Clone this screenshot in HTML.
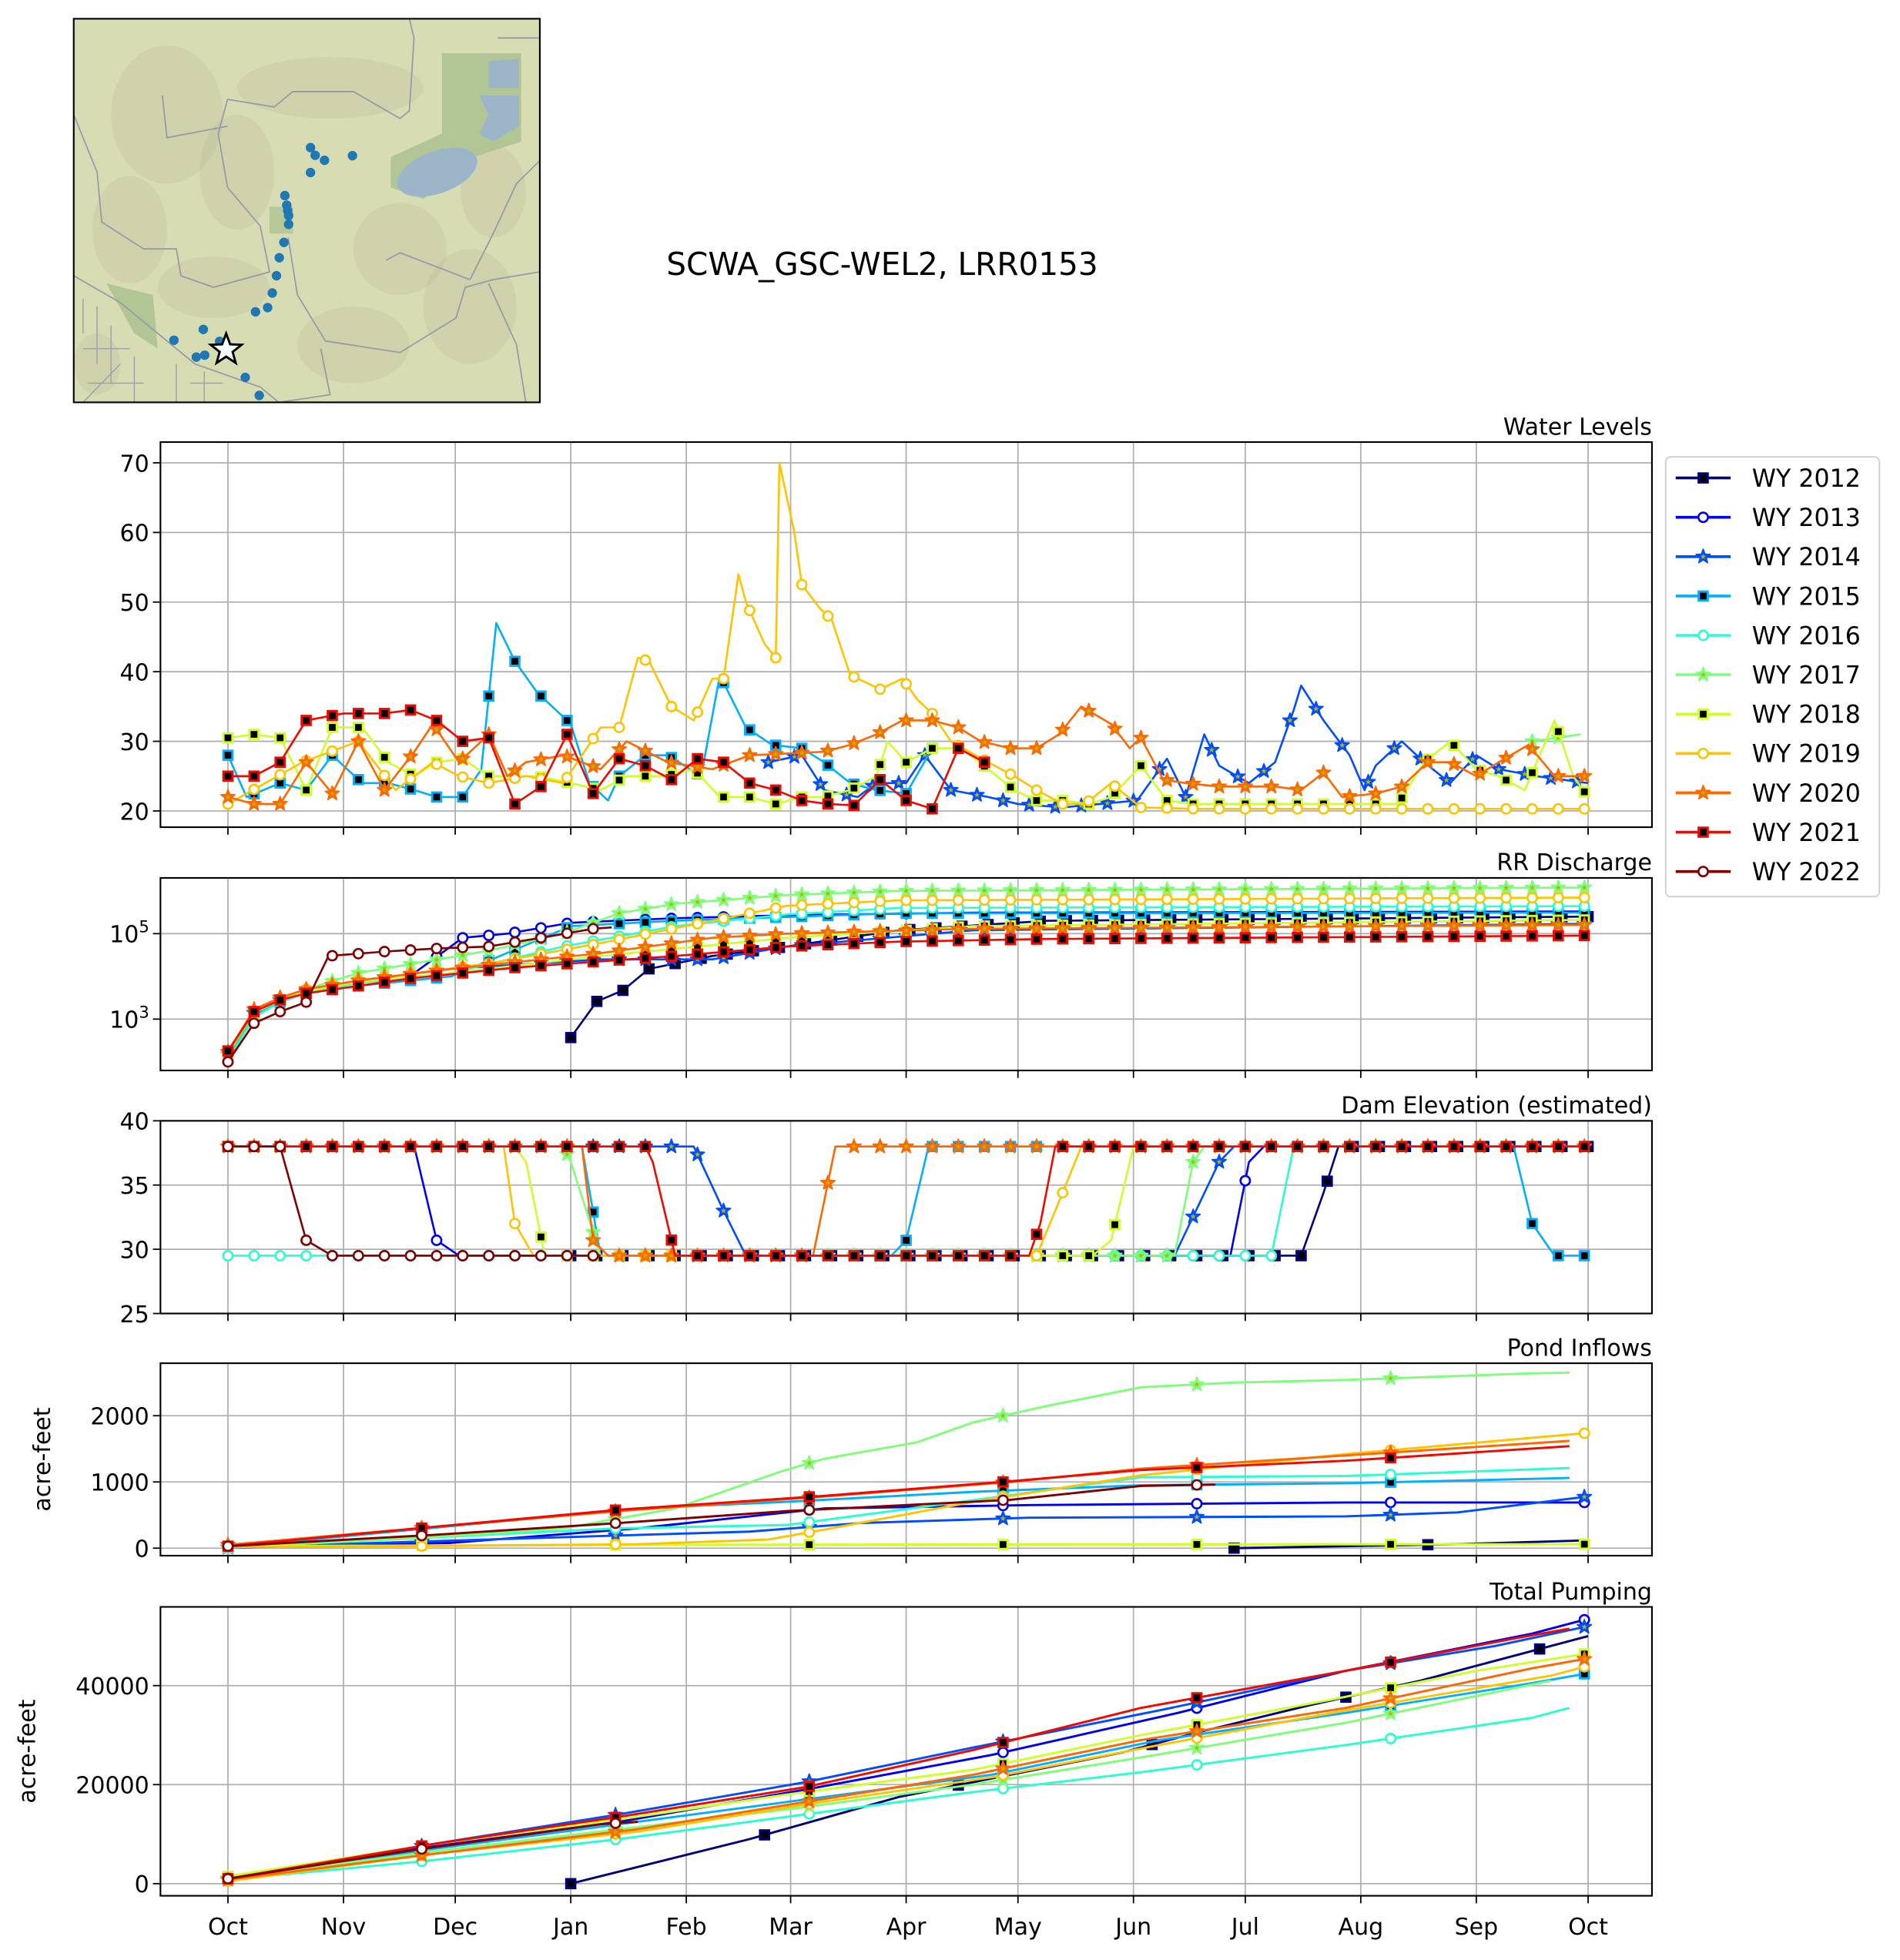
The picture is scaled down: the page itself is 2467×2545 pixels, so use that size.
<!DOCTYPE html>
<html><head><meta charset="utf-8"><style>
html,body{margin:0;padding:0;background:#fff}
svg{display:block;font-family:"DejaVu Sans","Liberation Sans",sans-serif}
</style></head><body>
<svg id="fig" width="2467" height="2545" viewBox="0 0 1520.5 1568.6" xmlns="http://www.w3.org/2000/svg">
<rect width="1520.5" height="1568.6" fill="#fff"/>
<g id="map"></g>
<text x="706" y="220" font-size="25" text-anchor="middle">SCWA_GSC-WEL2, LRR0153</text>
<g id="plots"></g>
<g id="legend"></g>
</svg>
<script>
// ---------- data ----------
const years = [2012,2013,2014,2015,2016,2017,2018,2019,2020,2021,2022];
const colors = ['#00007f','#0000f1','#004cff','#00b0ff','#29ffce','#7dff7a','#ceff29','#ffc400','#ff6800','#f10800','#7f0000'];
const markerTypes = ['s','o','*','s','o','*','s','o','*','s','o'];
const monthLabels = ['Oct','Nov','Dec','Jan','Feb','Mar','Apr','May','Jun','Jul','Aug','Sep','Oct'];
const monthDays = [0,31,61,92,123,151,182,212,243,273,304,335,365];

// Water levels [day, ft]
const wl2014 = [[145,27],[154,28],[160,23],[169,22],[174,24],[182,24],[187,28],[194,23],[204,22],[212,21],[224,20.5],[234,21],[244,21.5],[252,27.5],[257,22],[262,31],[266,26.5],[274,24],[281,27],[286,34.5],[288,38],[294,33],[301,28],[305,23],[308,26.5],[315,30],[321,27],[328,24],[335,28],[341,26],[351,25],[365,24]];
const wl2015 = [[0,28],[5,22],[14,24],[21,23],[28,28],[36,24],[43,24],[50,23],[56,22],[63,22],[68,26],[72,47],[77,41.5],[83,37],[92,32.5],[97,24],[102,21.5],[105,25],[112,28],[118,28],[127,25],[132,39.5],[139,32],[146,29.5],[154,29],[160,27],[167,24],[174,23],[182,22.5],[189,29]];
const wl2017 = [[350,30],[363,31]];
const wl2018 = [[0,30.5],[7,31],[14,30.5],[21,23],[28,32],[36,32],[43,27],[50,25],[56,27],[63,27.5],[70,25],[76,25],[83,25],[92,24],[100,23],[107,25],[117,25],[125,26],[132,22],[140,22],[147,21],[154,22],[160,22],[167,23],[174,25],[177,30],[182,27],[189,29],[197,29],[204,26],[211,23],[217,21.5],[224,21.5],[231,21],[237,22],[245,26.5],[252,21.5],[259,21],[266,21],[274,21],[281,21],[288,21],[294,21],[301,21],[308,21],[314,21],[321,27],[328,30],[335,26],[341,25],[348,23],[356,33],[361,25],[365,22]];
const wl2019 = [[0,21],[10,24],[20,27],[35,30],[45,23],[55,27],[62,25],[70,24],[80,25],[90,24],[100,32],[105,32],[110,42],[113,41.5],[119,35],[125,33],[130,39],[133,39],[137,54],[139,50],[144,44],[147,42],[148,70],[152,60],[154,52.5],[159,49],[162,47.5],[167,39.5],[175,37.5],[181,39],[185,36],[189,34],[194,30],[204,27],[211,25],[217,23],[224,21],[230,21],[237,24],[245,20.5],[260,20.3],[300,20.3],[365,20.3]];
const wl2020 = [[0,22],[7,21],[14,21],[21,27],[28,22.5],[35,30],[42,23],[50,28.5],[55,32.5],[62,27],[70,31],[75,25],[80,27],[90,28],[100,26],[107,30],[118,27],[130,26],[140,28],[160,28.5],[167,29.5],[174,31],[181,33],[189,33],[196,32],[202,30],[210,29],[217,29],[223,31],[229,35],[237,32.5],[242,29],[245,30.5],[251,24.5],[257,24],[266,23.5],[274,23.5],[281,23.5],[288,23],[294,25.5],[299,22],[308,22.5],[315,23.5],[322,27],[328,27],[335,25],[341,27],[349,29.5],[356,25],[365,25]];
const wl2021 = [[0,25],[7,25],[14,27],[21,33],[31,34],[42,34],[49,34.5],[56,33],[63,30],[70,30.5],[77,21],[84,23.5],[91,31],[98,22.5],[105,27.5],[112,26.5],[119,24.5],[126,27.5],[133,27],[140,24],[147,23],[154,21.5],[161,21],[168,20.8],[175,24.5],[182,21.5],[189,20.3],[196,29],[203,27]];
const wlSeries = [null,null,wl2014,wl2015,null,wl2017,wl2018,wl2019,wl2020,wl2021,null];

// RR discharge cumulative [day, value]
const rr2012 = [[92,370],[99,2600],[106,4700],[113,15000],[130,30000],[150,50000],[180,120000],[220,200000],[365,250000]];
const rr2013 = [[0,150],[7,1400],[14,2800],[21,4500],[35,7500],[50,12000],[63,80000],[75,100000],[92,180000],[120,230000],[150,270000],[200,310000],[365,330000]];
const rr2014 = [[0,150],[7,1400],[14,2800],[21,4500],[35,8000],[60,15000],[100,25000],[130,25000],[150,50000],[200,120000],[365,170000]];
const rr2015 = [[0,120],[7,1200],[14,2500],[21,4000],[35,6000],[60,10000],[92,150000],[120,200000],[180,300000],[365,310000]];
const rr2016 = [[0,110],[7,1100],[14,2500],[21,4000],[35,7000],[60,12000],[90,50000],[120,150000],[150,280000],[180,400000],[365,440000]];
const rr2017 = [[0,150],[7,1500],[14,3000],[21,5000],[35,12000],[50,20000],[70,40000],[90,100000],[105,300000],[120,500000],[150,800000],[180,1000000],[365,1200000]];
const rr2018 = [[0,150],[7,1400],[14,2800],[21,4500],[35,7500],[60,12000],[100,30000],[150,80000],[200,150000],[365,210000]];
const rr2019 = [[0,150],[7,1500],[14,3000],[21,5000],[35,8000],[70,20000],[100,60000],[130,200000],[150,450000],[180,600000],[365,700000]];
const rr2020 = [[0,170],[7,1700],[14,3200],[21,5000],[35,8000],[60,15000],[100,35000],[130,80000],[150,100000],[200,130000],[365,160000]];
const rr2021 = [[0,180],[7,1500],[14,2800],[21,4000],[35,6000],[49,9000],[63,12000],[77,16000],[92,20000],[120,30000],[150,50000],[180,65000],[220,75000],[365,90000]];
const rr2022 = [[0,100],[7,800],[14,1500],[21,2500],[27,30000],[42,38000],[56,45000],[70,50000],[84,80000],[98,130000],[103,140000]];
const rrSeries = [rr2012,rr2013,rr2014,rr2015,rr2016,rr2017,rr2018,rr2019,rr2020,rr2021,rr2022];

// Dam elevation [day, ft]
const dam2012 = [[92,29.5],[288,29.5],[294,34.4],[298,38],[365,38]];
const dam2013 = [[0,38],[50,38],[56,30.7],[62,29.5],[269,29.5],[274,36.8],[278,38],[365,38]];
const dam2014 = [[0,38],[125,38],[133,33],[139,29.5],[254,29.5],[266,36.8],[270,38],[365,38]];
const dam2015 = [[0,38],[95,38],[100,29.5],[178,29.5],[182,30.7],[188,38],[345,38],[350,32],[356,29.5],[365,29.5]];
const dam2016 = [[0,29.5],[280,29.5],[286,38],[365,38]];
const dam2017 = [[0,38],[90,38],[92,36.8],[100,29.5],[254,29.5],[259,36.8],[262,38],[365,38]];
const dam2018 = [[0,38],[77,38],[80,36.8],[85,29.5],[232,29.5],[237,30.7],[243,38],[365,38]];
const dam2019 = [[0,38],[74,38],[77,32],[82,29.5],[217,29.5],[224,34.4],[229,38],[365,38]];
const dam2020 = [[0,38],[95,38],[98,30.7],[102,29.5],[157,29.5],[163,38],[365,38]];
const dam2021 = [[0,38],[112,38],[114,36.8],[120,29.5],[215,29.5],[218,32],[222,38],[365,38]];
const dam2022 = [[0,38],[14,38],[21,30.7],[28,29.5],[100,29.5]];
const damSeries = [dam2012,dam2013,dam2014,dam2015,dam2016,dam2017,dam2018,dam2019,dam2020,dam2021,dam2022];

// Pond inflows [day, acre-feet]
const pond2012 = [[270,0],[330,60],[360,110],[365,120]];
const pond2013 = [[0,10],[60,80],[110,300],[160,600],[215,650],[300,690],[365,690]];
const pond2014 = [[0,10],[110,200],[140,250],[170,380],[215,460],[300,480],[330,540],[365,780]];
const pond2015 = [[0,10],[50,280],[110,600],[150,700],[200,850],[245,950],[300,980],[360,1060]];
const pond2016 = [[0,10],[105,300],[150,350],[210,800],[245,1070],[300,1090],[360,1210]];
const pond2017 = [[0,20],[50,150],[90,300],[120,600],[148,1150],[160,1350],[185,1600],[200,1900],[220,2150],[245,2430],[270,2500],[300,2540],[350,2640],[360,2650]];
const pond2018 = [[0,30],[100,50],[200,55],[365,60]];
const pond2019 = [[0,20],[50,30],[110,60],[145,130],[160,280],[200,700],[245,1100],[300,1420],[365,1740]];
const pond2020 = [[0,50],[55,320],[105,560],[160,780],[210,1000],[245,1200],[300,1400],[360,1620]];
const pond2021 = [[0,30],[55,320],[105,580],[160,790],[210,1010],[245,1180],[300,1320],[360,1540]];
const pond2022 = [[0,30],[55,200],[105,380],[150,560],[210,730],[245,940],[265,960]];
const pondSeries = [pond2012,pond2013,pond2014,pond2015,pond2016,pond2017,pond2018,pond2019,pond2020,pond2021,pond2022];

// Total pumping [day, acre-feet]
const pump2012 = [[92,0],[140,9000],[180,17500],[200,20500],[240,26500],[260,30500],[290,36000],[320,41000],[340,45000],[365,50000]];
const pump2013 = [[0,1000],[55,7500],[105,12500],[155,19000],[205,26000],[255,34500],[300,43000],[350,50500],[365,53500]];
const pump2014 = [[0,1000],[55,8000],[105,14000],[155,20500],[200,27500],[250,35000],[300,43000],[340,48000],[365,52000]];
const pump2015 = [[0,1000],[55,7000],[105,12000],[155,17000],[205,22000],[250,29000],[300,34500],[350,40500],[365,42500]];
const pump2016 = [[0,800],[52,4500],[105,9000],[155,14000],[200,18500],[245,22500],[300,28000],[350,33500],[360,35500]];
const pump2017 = [[0,1000],[55,6500],[105,11000],[150,15000],[200,20000],[245,25500],[300,32500],[355,41000]];
const pump2018 = [[0,1500],[30,5000],[55,8000],[105,13000],[150,18000],[200,23000],[245,30000],[295,37000],[335,43000],[365,46500]];
const pump2019 = [[0,500],[55,6000],[110,10500],[155,16000],[205,21500],[250,28000],[300,35000],[355,42000],[365,44000]];
const pump2020 = [[0,800],[55,6000],[110,11000],[155,16500],[200,22000],[245,29000],[300,35500],[350,43500],[365,45500]];
const pump2021 = [[0,1000],[55,8000],[105,13500],[155,19500],[200,27000],[245,35500],[300,43000],[345,49500],[360,51500]];
const pump2022 = [[0,1000],[52,7000],[100,12000],[110,12500]];
const pumpSeries = [pump2012,pump2013,pump2014,pump2015,pump2016,pump2017,pump2018,pump2019,pump2020,pump2021,pump2022];

// ---------- rendering ----------
const NS='http://www.w3.org/2000/svg';
function mk(tag, attrs, parent){const e=document.createElementNS(NS,tag);for(const k in attrs)e.setAttribute(k,attrs[k]);if(parent)parent.appendChild(e);return e;}
const X0=128.4, X1=1322, D0=182.4, D1=1270.9;
function xDay(d){return D0+(D1-D0)*d/365;}

function starPath(cx,cy,r){let p='';for(let i=0;i<10;i++){const rr=i%2?r*0.42:r;const a=-Math.PI/2+i*Math.PI/5;p+=(i?'L':'M')+(cx+rr*Math.cos(a)).toFixed(2)+','+(cy+rr*Math.sin(a)).toFixed(2);}return p+'Z';}
function drawMarker(g,type,cx,cy,color){
  let m;
  if(type==='s'){m=mk('rect',{x:cx-3.6,y:cy-3.6,width:7.2,height:7.2,fill:'#000',stroke:color,'stroke-width':1.8},g);}
  else if(type==='o'){m=mk('circle',{cx:cx,cy:cy,r:3.8,fill:'#fff',stroke:color,'stroke-width':1.6},g);}
  else {m=mk('path',{d:starPath(cx,cy,6),fill:color,stroke:color,'stroke-width':1,'stroke-linejoin':'round'},g);
        mk('path',{d:starPath(cx,cy,2.4),fill:'#b8b400'},g);}
  
  
}
function interpPix(pix,x){for(let i=1;i<pix.length;i++){if(x<=pix[i][0]+1e-6){const a=pix[i-1],b=pix[i];const t=(b[0]===a[0])?0:(x-a[0])/(b[0]-a[0]);return a[1]+t*(b[1]-a[1]);}}return pix[pix.length-1][1];}

const plots=document.getElementById('plots');
function makePanel(name,title,top,bottom,yTicks,yFn,yLabelFn,showX,ylabel,ylabelX){
  const g=mk('g',{},plots);
  
  
  monthDays.forEach(d=>{const gl=mk('line',{x1:xDay(d),x2:xDay(d),y1:top,y2:bottom,stroke:'#b0b0b0','stroke-width':1.1},g);});
  yTicks.forEach(v=>{const y=yFn(v);const gl=mk('line',{x1:X0,x2:X1,y1:y,y2:y,stroke:'#b0b0b0','stroke-width':1.1},g);
    mk('line',{x1:X0-6,x2:X0,y1:y,y2:y,stroke:'#000','stroke-width':1.1},g);
    const t=mk('text',{x:X0-9,y:y+7,'font-size':18.5,'text-anchor':'end'},g);
    
    yLabelFn(t,v);
  });
  monthDays.forEach((d,i)=>{mk('line',{x1:xDay(d),x2:xDay(d),y1:bottom,y2:bottom+6,stroke:'#000','stroke-width':1.1},g);
    if(showX){const t=mk('text',{x:xDay(d),y:bottom+31,'font-size':18.5,'text-anchor':'middle'},g);t.textContent=monthLabels[i];}});
  const tt=mk('text',{x:X1,y:top-6,'font-size':18.5,'text-anchor':'end'},g);tt.textContent=title;
  
  if(ylabel){const yl=mk('text',{x:ylabelX,y:(top+bottom)/2,'font-size':18.5,'text-anchor':'middle',transform:'rotate(-90 '+ylabelX+' '+(top+bottom)/2+')'},g);yl.textContent=ylabel;}
  const clipId='clip-'+name;
  const cp=mk('clipPath',{id:clipId},g);mk('rect',{x:X0,y:top,width:X1-X0,height:bottom-top},cp);
  const data=mk('g',{'clip-path':'url(#'+clipId+')'},g);
  const fr=mk('rect',{x:X0,y:top,width:X1-X0,height:bottom-top,fill:'none',stroke:'#000','stroke-width':1.3},g);
  
  return data;
}
function drawSeries(g,seriesArr,yFn,step,lw){
  seriesArr.forEach((pts,i)=>{
    if(!pts)return;
    const sg=mk('g',{},g);
    
    
    const pix=pts.map(p=>[xDay(p[0]),yFn(p[1])]);
    const pl=mk('polyline',{points:pix.map(p=>p[0].toFixed(2)+','+p[1].toFixed(2)).join(' '),fill:'none',stroke:colors[i],'stroke-width':lw,'stroke-linejoin':'round'},sg);
    
    
    const first=pts[0][0],last=pts[pts.length-1][0];
    for(let d=first;d<=last+0.01;d+=step){
      const xp=xDay(d);
      const yp=interpPix(pix,xp);
      drawMarker(sg,markerTypes[i],xp,yp,colors[i]);
    }
  });
}

const yWL=v=>370.4+(70-v)*5.572;
const p1=makePanel('water-levels','Water Levels',353.8,662,[20,30,40,50,60,70],yWL,(t,v)=>{t.textContent=v;},false);
drawSeries(p1,wlSeries,yWL,7,1.6);
const yRR=v=>747.2-(Math.log10(v)-5)*34.2;
const p2=makePanel('rr-discharge','RR Discharge',702.6,856.7,[1000,100000],yRR,(t,v)=>{t.textContent='10';const s=mk('tspan',{dy:-8,'font-size':13},t);s.textContent=String(Math.round(Math.log10(v)));},false);
drawSeries(p2,rrSeries,yRR,7,1.6);
const yDam=v=>897+(40-v)*10.28;
const p3=makePanel('dam-elevation','Dam Elevation (estimated)',897,1051.2,[25,30,35,40],yDam,(t,v)=>{t.textContent=v;},false);
drawSeries(p3,damSeries,yDam,7,1.6);
const yPond=v=>1239-v*0.053;
const p4=makePanel('pond-inflows','Pond Inflows',1091,1245,[0,1000,2000],yPond,(t,v)=>{t.textContent=v;},false,'acre-feet',40);
drawSeries(p4,pondSeries,yPond,52,1.8);
const yPump=v=>1507.5-v*0.0039625;
const p5=makePanel('total-pumping','Total Pumping',1286,1517.2,[0,20000,40000],yPump,(t,v)=>{t.textContent=v;},true,'acre-feet',28);
drawSeries(p5,pumpSeries,yPump,52,1.8);

// Legend
const lg=document.getElementById('legend');
mk('rect',{x:1333,y:365.6,width:171,height:352,rx:4,fill:'#fff',stroke:'#d0d0d0','stroke-width':1.2},lg);
years.forEach((yr,i)=>{
  const y=382.5+i*31.5;
  const eg=mk('g',{},lg);
  
  
  mk('line',{x1:1341,x2:1385,y1:y,y2:y,stroke:colors[i],'stroke-width':2.2},eg);
  drawMarker(eg,markerTypes[i],1363,y,colors[i]);
  const t=mk('text',{x:1402,y:y+7,'font-size':19.5},eg);t.textContent='WY '+yr;
});

// Map
const map=document.getElementById('map');
const MX=59,MY=15,MW=373,MH=307;
const fx=f=>MX+f*MW, fy=f=>MY+f*MH;
mk('rect',{x:MX,y:MY,width:MW,height:MH,fill:'#d8dcb2'},map);
[[0.2,0.25,0.12,0.18],[0.35,0.4,0.08,0.15],[0.12,0.55,0.08,0.14],[0.55,0.18,0.2,0.08],[0.7,0.6,0.1,0.12],[0.85,0.75,0.1,0.15],[0.9,0.45,0.07,0.12],[0.3,0.7,0.12,0.08],[0.6,0.85,0.12,0.1],[0.05,0.9,0.05,0.08]].forEach(h=>{
  mk('ellipse',{cx:fx(h[0]),cy:fy(h[1]),rx:h[2]*MW,ry:h[3]*MH,fill:'#a7a886','fill-opacity':0.18},map);
});
mk('path',{d:`M${fx(.79)},${fy(.09)} L${fx(.96)},${fy(.09)} L${fx(.96)},${fy(.32)} L${fx(.86)},${fy(.36)} L${fx(.75)},${fy(.47)} L${fx(.68)},${fy(.44)} L${fx(.68)},${fy(.36)} L${fx(.79)},${fy(.3)} Z`,fill:'#a9c08d','fill-opacity':0.8},map);
mk('path',{d:`M${fx(.07)},${fy(.69)} L${fx(.17)},${fy(.72)} L${fx(.18)},${fy(.86)} L${fx(.13)},${fy(.82)} Z`,fill:'#a9c08d','fill-opacity':0.8},map);
mk('rect',{x:fx(.42),y:fy(.49),width:0.05*MW,height:0.07*MH,fill:'#a9c08d','fill-opacity':0.7},map);
mk('path',{d:`M${fx(.89)},${fy(.11)} L${fx(.955)},${fy(.105)} L${fx(.955)},${fy(.18)} L${fx(.89)},${fy(.18)} Z`,fill:'#9cb5c9'},map);
mk('path',{d:`M${fx(.87)},${fy(.2)} L${fx(.955)},${fy(.2)} L${fx(.955)},${fy(.28)} L${fx(.9)},${fy(.32)} L${fx(.87)},${fy(.3)} L${fx(.89)},${fy(.25)} Z`,fill:'#9cb5c9'},map);
mk('ellipse',{cx:fx(.78),cy:fy(.4),rx:0.09*MW,ry:0.055*MH,fill:'#9cb5c9',transform:`rotate(-20 ${fx(.78)} ${fy(.4)})`},map);
[
 [[0,.25],[.05,.4],[.06,.53],[.15,.6],[.22,.6],[.23,.67],[.3,.7],[.42,.66],[.4,.54],[.33,.44],[.31,.3],[.33,.21],[.43,.23],[.47,.19],[.6,.19],[.7,.26],[.72,.24],[.73,.05],[.72,0]],
 [[0,.67],[.1,.74],[.18,.82],[.26,.9],[.33,.93],[.4,.96],[.44,1]],
 [[.46,.57],[.48,.72],[.53,.82],[.54,.84],[.7,.87],[.82,.78],[.84,.7],[.9,.68],[1,.66]],
 [[.67,.63],[.7,.61],[.85,.68]],
 [[.85,.68],[.9,.56],[.95,.43],[1,.37]],
 [[.89,.69],[.95,.85],[.97,1]],
 [[.19,.2],[.2,.31],[.33,.28]],
 [[.91,.05],[1,.05]],
 [[.53,.86],[.55,.98],[.44,1]]
].forEach(r=>{mk('polyline',{points:r.map(p=>fx(p[0]).toFixed(1)+','+fy(p[1]).toFixed(1)).join(' '),fill:'none',stroke:'#9a9aa8','stroke-width':1.1},map);});
[[.02,.73,.02,.82],[.05,.75,.05,.9],[.02,.86,.12,.86],[.08,.8,.08,.95],[.03,.95,.15,.95],[.13,.88,.13,1],[.22,.9,.22,1],[.25,.95,.32,.95],[.28,.92,.28,1],[.02,1,.1,.9]].forEach(s=>{
  mk('line',{x1:fx(s[0]),y1:fy(s[1]),x2:fx(s[2]),y2:fy(s[3]),stroke:'#a0a0ad','stroke-width':0.9},map);});
const wellX=[.508,.518,.538,.598,.508,.453,.457,.459,.461,.461,.451,.441,.435,.426,.416,.39,.278,.215,.313,.281,.263,.368,.398];
const wellY=[.336,.356,.369,.357,.401,.461,.486,.5,.513,.536,.583,.623,.67,.715,.753,.764,.81,.838,.841,.877,.882,.935,.982];
wellX.forEach((x,i)=>{const c=mk('circle',{cx:fx(x),cy:fy(wellY[i]),r:3.8,fill:'#1f77b4'},map);
  });
const st=mk('path',{d:starPath(fx(.327),fy(.863),13),fill:'#fff',stroke:'#000','stroke-width':1.8,'stroke-linejoin':'miter'},map);

mk('rect',{x:MX,y:MY,width:MW,height:MH,fill:'none',stroke:'#000','stroke-width':1.3},map);
</script>
</body></html>
